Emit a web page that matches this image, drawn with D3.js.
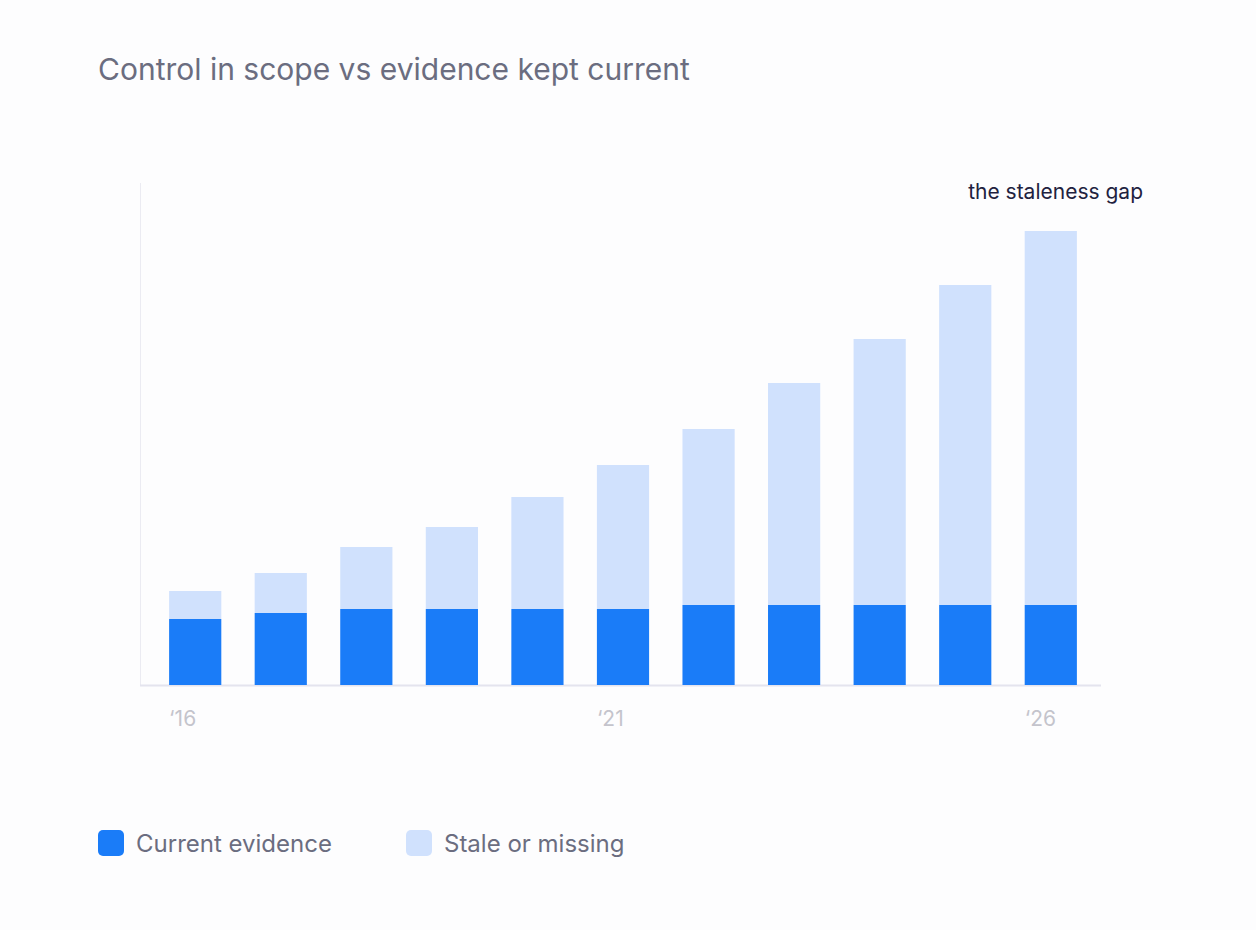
<!DOCTYPE html>
<html><head><meta charset="utf-8">
<script src="https://cdn.jsdelivr.net/npm/d3@7"></script>
<style>body{margin:0;background:#fdfdfe;font-family:Inter,"Noto Sans",sans-serif}</style>
</head><body>
<script>
const years = ["2016","2017","2018","2019","2020","2021","2022","2023","2024","2025","2026"];
const currentEvidence = [13.2,14.4,15.2,15.2,15.2,15.2,16,16,16,16,16];
const staleOrMissing = [5.6,8.0,12.4,16.4,22.4,28.8,35.2,44.4,53.2,64.0,74.8];
const tickYears = ["2016","2021","2026"];
const tickLabels = ["\u201816","\u201821","\u201826"];

const W = 1256, H = 930;
const svg = d3.select("body").append("svg").attr("width", W).attr("height", H);
svg.append("rect").attr("width", W).attr("height", H).attr("fill", "#fdfdfe");

const x = d3.scaleBand().domain(years).range([152, 1094]).paddingInner(0.39).paddingOuter(0.2);
const y = d3.scaleLinear().domain([0, 100]).range([685, 185]);

svg.append("text").attr("x", 98).attr("y", 80).attr("font-size", 30).attr("fill", "#6b6d80")
  .text("Control in scope vs evidence kept current");

// axes lines
svg.append("line").attr("x1", 140.5).attr("x2", 140.5).attr("y1", 183).attr("y2", 685).attr("stroke", "#ebebf2");
svg.append("line").attr("x1", 140).attr("x2", 1101).attr("y1", 685.5).attr("y2", 685.5).attr("stroke", "#e4e4ee").attr("stroke-width", 2);

const rows = years.map((yr, i) => ({yr, cur: currentEvidence[i], stale: staleOrMissing[i]}));
svg.append("g").selectAll("rect").data(rows).join("rect")
  .attr("x", d => x(d.yr)).attr("width", x.bandwidth())
  .attr("y", d => y(d.cur + d.stale)).attr("height", d => y(d.cur) - y(d.cur + d.stale))
  .attr("fill", "#d0e1fd");
svg.append("g").selectAll("rect").data(rows).join("rect")
  .attr("x", d => x(d.yr)).attr("width", x.bandwidth())
  .attr("y", d => y(d.cur)).attr("height", d => y(0) - y(d.cur))
  .attr("fill", "#1a7cf8");

svg.append("g").selectAll("text").data(tickYears).join("text")
  .attr("x", d => x(d)).attr("y", 726).attr("font-size", 21).attr("fill", "#c4c4cc")
  .text((d, i) => tickLabels[i]);

svg.append("text").attr("x", 1143).attr("y", 199).attr("text-anchor", "end")
  .attr("font-size", 21).attr("fill", "#1f2240").text("the staleness gap");

const legend = [["Current evidence", "#1a7cf8", 98], ["Stale or missing", "#d0e1fd", 406]];
legend.forEach(([t, c, lx]) => {
  svg.append("rect").attr("x", lx).attr("y", 830).attr("width", 26).attr("height", 26).attr("rx", 5).attr("fill", c);
  svg.append("text").attr("x", lx + 38).attr("y", 852).attr("font-size", 24).attr("fill", "#6b6d80").text(t);
});
</script>
</body></html>
